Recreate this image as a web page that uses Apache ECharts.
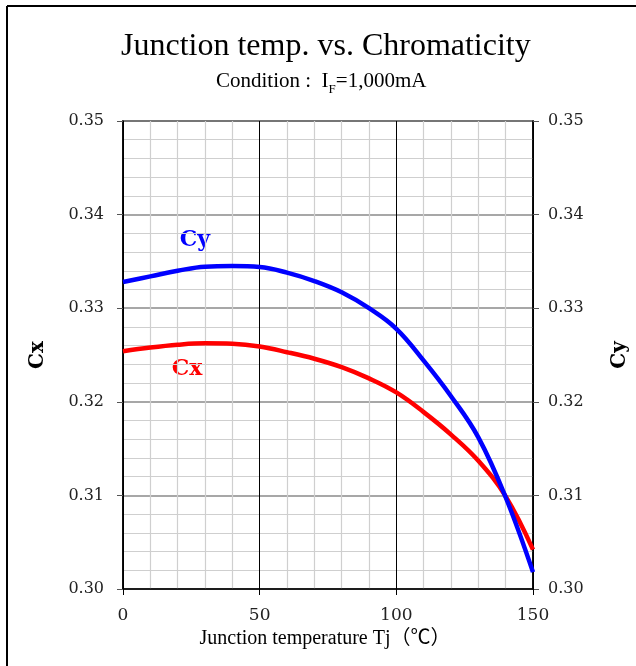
<!DOCTYPE html>
<html><head><meta charset="utf-8">
<script src="https://cdn.jsdelivr.net/npm/echarts@6/dist/echarts.min.js"></script>
<style>html,body{margin:0;padding:0;background:#fff}#c{width:636px;height:666px}</style>
</head><body><div id="c"></div>
<script>
const temps = [0,10,20,30,40,50,60,70,80,90,100,110,120,130,140,150];
const cx = [0.3254,0.3258,0.3261,0.32625,0.3262,0.3259,0.3253,0.3246,0.3237,0.3225,0.3210,0.3189,0.3165,0.3137,0.3099,0.3042];
const cy = [0.3328,0.3334,0.3340,0.33444,0.3345,0.3344,0.3338,0.3329,0.3317,0.3300,0.3278,0.3244,0.3206,0.3162,0.3098,0.3018];
const xTicks = [0,50,100,150];
const yTicks = [0.30,0.31,0.32,0.33,0.34,0.35];

const serif = 'Liberation Serif';
const tickFont = 'DejaVu Serif';
const chart = echarts.init(document.getElementById('c'));
const yAxisBase = {
  type:'value', min:yTicks[0], max:yTicks[yTicks.length-1], interval:0.01,
  axisLine:{show:true,lineStyle:{color:'#000',width:1.5}},
  axisTick:{show:true,length:6,inside:false,lineStyle:{color:'#555',width:1}},
  nameLocation:'middle', nameRotate:90,
  nameTextStyle:{fontFamily:'DejaVu Serif',fontWeight:'bold',fontSize:20,color:'#000'}
};
const yLabel = m => ({fontFamily:tickFont,fontSize:16,color:'#222',margin:m,formatter:v=>v.toFixed(2)});
chart.setOption({
  animation:false,
  backgroundColor:'#fff',
  title:[
    {text:'Junction temp. vs. Chromaticity',left:116,top:26,
     textStyle:{fontFamily:serif,fontWeight:'normal',fontSize:32,color:'#000'}},
    {text:'{n|Condition :  I}{s|F}{n|=1,000mA}',left:211,top:63,
     textStyle:{fontWeight:'normal',rich:{
       n:{fontFamily:serif,fontSize:21,fontWeight:'normal',color:'#000',verticalAlign:'bottom',lineHeight:24},
       s:{fontFamily:serif,fontSize:13,fontWeight:'normal',color:'#000',verticalAlign:'bottom',lineHeight:17,padding:[0,0,-4,0]}}}}
  ],
  grid:{left:123,right:103,top:121,bottom:77,outerBoundsMode:'none',containLabel:false,show:true,borderColor:'#000',borderWidth:1.5,backgroundColor:'transparent'},
  xAxis:{type:'value',min:xTicks[0],max:xTicks[xTicks.length-1],interval:50,
    axisLine:{show:true,lineStyle:{color:'#000',width:1.5}},
    axisTick:{show:true,length:6,lineStyle:{color:'#000'}},
    axisLabel:{fontFamily:tickFont,fontSize:17,color:'#222',margin:18},
    splitLine:{show:true,lineStyle:{color:'#000',width:1}},
    minorTick:{show:false,splitNumber:5},
    minorSplitLine:{show:true,lineStyle:{color:'#cfcfcf',width:1.2}},
    name:'Junction temperature Tj（℃）',nameLocation:'middle',nameGap:38,
    nameTextStyle:{fontFamily:"'Liberation Serif','Noto Sans CJK JP'",fontSize:20,color:'#000',padding:[0,6,0,0]}},
  yAxis:[
    Object.assign({},yAxisBase,{position:'left',name:'Cx',nameGap:75,axisLabel:yLabel(19),
      splitLine:{show:true,lineStyle:{color:'#8a8a8a',width:1.5}},
      minorTick:{show:false,splitNumber:5},
      minorSplitLine:{show:true,lineStyle:{color:'#cfcfcf',width:1.2}}}),
    Object.assign({},yAxisBase,{position:'right',name:'Cy',nameGap:77,axisLabel:yLabel(15),
      splitLine:{show:false}})
  ],
  series:[
    {name:'Cx',type:'line',yAxisIndex:0,smooth:0.4,symbol:'none',
     data:temps.map((t,i)=>[t,cx[i]]),lineStyle:{color:'#ff0000',width:4.5},z:3},
    {name:'Cy',type:'line',yAxisIndex:1,smooth:0.4,symbol:'none',
     data:temps.map((t,i)=>[t,cy[i]]),lineStyle:{color:'#0000ff',width:4.5},z:4}
  ],
  graphic:[
    {type:'line',shape:{x1:7,y1:6,x2:7,y2:666},style:{stroke:'#000',lineWidth:2}},
    {type:'line',shape:{x1:7,y1:6,x2:636,y2:6},style:{stroke:'#000',lineWidth:2}},
    {type:'text',x:195,y:240,style:{text:'Cy',align:'center',verticalAlign:'middle',fontFamily:'DejaVu Serif',fontWeight:'bold',fontSize:22,fill:'#0000ff'}},
    {type:'text',x:187,y:369,style:{text:'Cx',align:'center',verticalAlign:'middle',fontFamily:'DejaVu Serif',fontWeight:'bold',fontSize:22,fill:'#ff0000'}}
  ]
});
</script></body></html>
